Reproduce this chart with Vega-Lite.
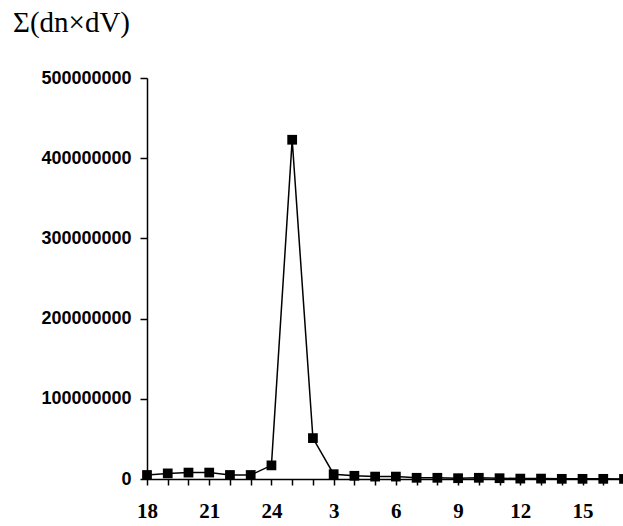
{
  "$schema": "https://vega.github.io/schema/vega-lite/v6.json",
  "autosize": {"type": "none"},
  "padding": {"left": 147, "top": 78, "right": 0, "bottom": 47},
  "width": 477,
  "height": 401,
  "background": "white",
  "title": {
    "text": "Σ(dn×dV)",
    "anchor": "start",
    "frame": "group",
    "dx": -134,
    "offset": 31,
    "font": "Liberation Serif",
    "fontSize": 29,
    "fontWeight": "normal",
    "color": "black"
  },
  "config": {
    "view": {"stroke": null},
    "axis": {"grid": false, "domainColor": "black", "tickColor": "black", "labelColor": "black", "domainWidth": 1.5, "tickWidth": 1.5}
  },
  "data": {
    "values": [
      {"hour": 18, "value": 5000000},
      {"hour": 19, "value": 7000000},
      {"hour": 20, "value": 8000000},
      {"hour": 21, "value": 8000000},
      {"hour": 22, "value": 5000000},
      {"hour": 23, "value": 5000000},
      {"hour": 24, "value": 17000000},
      {"hour": 1, "value": 423000000},
      {"hour": 2, "value": 51000000},
      {"hour": 3, "value": 6000000},
      {"hour": 4, "value": 4000000},
      {"hour": 5, "value": 3000000},
      {"hour": 6, "value": 3000000},
      {"hour": 7, "value": 1500000},
      {"hour": 8, "value": 1500000},
      {"hour": 9, "value": 1000000},
      {"hour": 10, "value": 1500000},
      {"hour": 11, "value": 1000000},
      {"hour": 12, "value": 500000},
      {"hour": 13, "value": 500000},
      {"hour": 14, "value": 200000},
      {"hour": 15, "value": 200000},
      {"hour": 16, "value": 200000},
      {"hour": 17, "value": 100000}
    ]
  },
  "encoding": {
    "x": {
      "field": "hour",
      "type": "ordinal",
      "sort": [18, 19, 20, 21, 22, 23, 24, 1, 2, 3, 4, 5, 6, 7, 8, 9, 10, 11, 12, 13, 14, 15, 16, 17],
      "scale": {"type": "point", "padding": 0},
      "axis": {
        "title": null,
        "labelAngle": 0,
        "labelExpr": "indexof([18,21,24,3,6,9,12,15], datum.value) >= 0 ? datum.label : ''",
        "labelFont": "Liberation Serif",
        "labelFontWeight": "bold",
        "labelFontSize": 21,
        "tickSize": 6,
        "labelPadding": 15
      }
    },
    "y": {
      "field": "value",
      "type": "quantitative",
      "scale": {"domain": [0, 500000000], "nice": false},
      "axis": {
        "title": null,
        "values": [0, 100000000, 200000000, 300000000, 400000000, 500000000],
        "format": "d",
        "labelFont": "Liberation Sans",
        "labelFontSize": 18,
        "labelFontWeight": "bold",
        "tickSize": 7,
        "labelPadding": 9
      }
    }
  },
  "layer": [
    {"mark": {"type": "line", "color": "black", "strokeWidth": 1.5}},
    {"mark": {"type": "point", "shape": "square", "filled": true, "color": "black", "opacity": 1, "size": 95}}
  ]
}
